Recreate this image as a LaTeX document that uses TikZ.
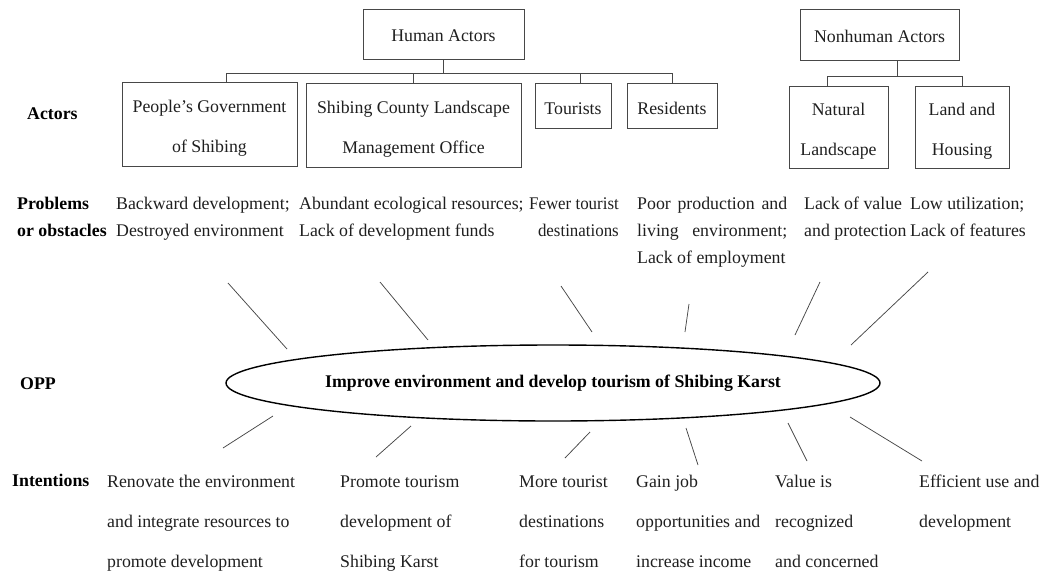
\documentclass[tikz,border=0pt]{standalone}
\usepackage{fontspec}
\setmainfont{Liberation Serif}
\usetikzlibrary{shapes.geometric}
\begin{document}
\begin{tikzpicture}[x=1pt,y=-1pt,
  tx/.style={font=\fontsize{17.8}{20}\selectfont, inner sep=0pt, anchor=base west, text=black!88},
  txr/.style={tx, anchor=base east},
  bl/.style={tx, font=\fontsize{17.8}{20}\selectfont\bfseries, text=black},
  box/.style={draw=black!72, line width=0.8pt, inner sep=0pt},
  boxtext/.style={inner sep=0pt, align=center, text=black!88, yshift=-4pt,
              font=\fontsize{17.8}{40}\selectfont},
  link/.style={draw=black!72, line width=0.8pt},
  ray/.style={draw=black!72, line width=0.75pt},
  opp/.style={ellipse, draw=black, line width=1.4pt, inner sep=0pt,
              minimum width=654pt, minimum height=76pt,
              font=\fontsize{17.8}{20}\selectfont\bfseries}]
\useasboundingbox (0,0) rectangle (1047,576);

% ---------- actors ----------
\node[box, minimum width=161pt, minimum height=50pt] (hum) at (443.5,34) {};
\node[box, minimum width=175pt, minimum height=84pt] (pg)  at (209.5,124) {};
\node[box, minimum width=215pt, minimum height=84pt] (shb) at (413.5,125) {};
\node[box, minimum width=76pt,  minimum height=45pt] (tou) at (573,105.5) {};
\node[box, minimum width=90pt,  minimum height=45pt] (res) at (672,105.5) {};
\node[box, minimum width=159pt, minimum height=51pt] (non)  at (879.5,34.5) {};
\node[box, minimum width=99pt,  minimum height=82pt] (nat)  at (838.5,127) {};
\node[box, minimum width=94pt,  minimum height=82pt] (land) at (962,127) {};

\node[boxtext, yshift=2pt] (humt) at (hum.center) {Human Actors};
\node[boxtext] (pgt)  at (pg.center)  {People's Government\\of Shibing};
\node[boxtext] (shbt) at (shb.center) {Shibing County Landscape\\Management Office};
\node[boxtext, yshift=1pt] (tout) at (tou.center) {Tourists};
\node[boxtext, yshift=1pt] (rest) at (res.center) {Residents};
\node[boxtext, yshift=2pt] (nont) at (non.center) {Nonhuman Actors};
\node[boxtext] (natt) at (nat.center) {Natural\\Landscape};
\node[boxtext] (landt) at (land.center) {Land and\\Housing};

\coordinate (hbar) at (0,73);
\coordinate (nbar) at (0,76);
\draw[link] (hum.south) -- (hum.south |- hbar);
\draw[link] ([xshift=16.5pt]pg.north) |- (res.north |- hbar) -- (res.north);
\draw[link] (shb.north) -- (shb.north |- hbar);
\draw[link] ([xshift=7pt]tou.north) -- ([xshift=7pt]tou.north |- hbar);
\draw[link] ([xshift=17.5pt]non.south) -- ([xshift=17.5pt]non.south |- nbar);
\draw[link] ([xshift=-11.5pt]nat.north) |- (land.north |- nbar) -- (land.north);

% ---------- row labels ----------
\node[bl] (lact) at (27,119) {Actors};
\node[bl] (lpr1) at (17,209) {Problems};
\node[bl] (lpr2) at (17,236) {or obstacles};
\node[bl] (lopp) at (20,389) {OPP};
\node[bl] (lint) at (12,486) {Intentions};

% ---------- problems ----------
\node[tx] (pa1) at (116,209) {Backward development;};
\node[tx] (pa2) at (116,236) {Destroyed environment};
\node[tx] (pb1) at (299,209) {Abundant ecological resources;};
\node[tx] (pb2) at (299,236) {Lack of development funds};
\node[txr] (pc1) at (619,209) {\scalebox{0.95}[1]{Fewer tourist}};
\node[txr] (pc2) at (619,236) {\scalebox{0.95}[1]{destinations}};
\node[tx] (pd1) at (637,209) {\makebox[150pt][s]{Poor production and}};
\node[tx] (pd2) at (637,236) {\makebox[150pt][s]{living environment;}};
\node[tx] (pd3) at (637,263) {Lack of employment};
\node[tx] (pe1) at (804,209) {Lack of value};
\node[tx] (pe2) at (804,236) {and protection};
\node[tx] (pf1) at (910,209) {Low utilization;};
\node[tx] (pf2) at (910,236) {Lack of features};

% ---------- OPP ----------
\node[opp] (oppe) at (553,383) {Improve environment and develop tourism of Shibing Karst};

% ---------- intentions ----------
\node[tx] (ia1) at (107,487) {Renovate the environment};
\node[tx] (ia2) at (107,527) {and integrate resources to};
\node[tx] (ia3) at (107,567) {promote development};
\node[tx] (ib1) at (340,487) {Promote tourism};
\node[tx] (ib2) at (340,527) {development of};
\node[tx] (ib3) at (340,567) {Shibing Karst};
\node[tx] (ic1) at (519,487) {More tourist};
\node[tx] (ic2) at (519,527) {destinations};
\node[tx] (ic3) at (519,567) {for tourism};
\node[tx] (id1) at (636,487) {Gain job};
\node[tx] (id2) at (636,527) {opportunities and};
\node[tx] (id3) at (636,567) {increase income};
\node[tx] (ie1) at (775,487) {Value is};
\node[tx] (ie2) at (775,527) {recognized};
\node[tx] (ie3) at (775,567) {and concerned};
\node[tx] (if1) at (919,487) {Efficient use and};
\node[tx] (if2) at (919,527) {development};

% ---------- rays ----------
\coordinate (p1a) at (228,283); \coordinate (p1b) at (287,349);
\coordinate (p2a) at (380,282); \coordinate (p2b) at (428,340);
\coordinate (p3a) at (561,286); \coordinate (p3b) at (592,332);
\coordinate (p4a) at (689,304); \coordinate (p4b) at (685,332);
\coordinate (p5a) at (820,282); \coordinate (p5b) at (795,335);
\coordinate (p6a) at (928,272); \coordinate (p6b) at (851,345);
\foreach \i in {1,...,6} \draw[ray] (p\i a) -- (p\i b);

\coordinate (q1a) at (273,416); \coordinate (q1b) at (223,448);
\coordinate (q2a) at (411,426); \coordinate (q2b) at (376,457);
\coordinate (q3a) at (590,432); \coordinate (q3b) at (565,458);
\coordinate (q4a) at (686,428); \coordinate (q4b) at (698,465);
\coordinate (q5a) at (788,423); \coordinate (q5b) at (807,461);
\coordinate (q6a) at (850,417); \coordinate (q6b) at (922,461);
\foreach \i in {1,...,6} \draw[ray] (q\i a) -- (q\i b);
\end{tikzpicture}
\end{document}
